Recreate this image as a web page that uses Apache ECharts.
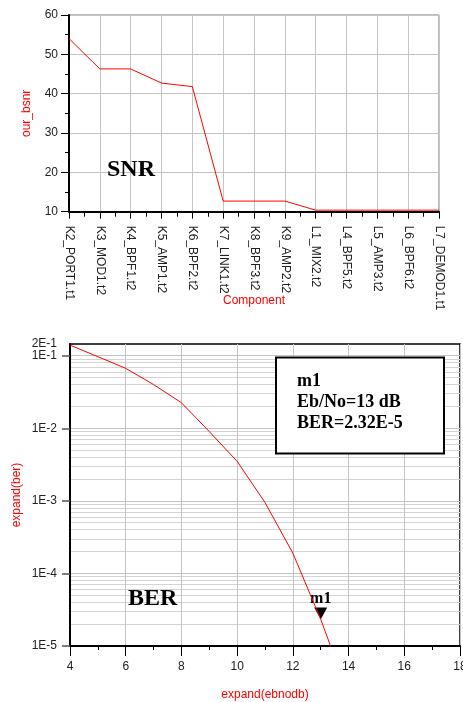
<!DOCTYPE html>
<html>
<head>
<meta charset="utf-8">
<script src="https://cdn.jsdelivr.net/npm/echarts@6/dist/echarts.min.js"></script>
<style>
html,body{margin:0;padding:0;background:#fff;}
#c{width:463px;height:702px;}
</style>
</head>
<body>
<div id="c"></div>
<script>
// ---- Data: SNR chain ----
const components = ['K2_PORT1.t1','K3_MOD1.t2','K4_BPF1.t2','K5_AMP1.t2','K6_BPF2.t2','K7_LINK1.t2','K8_BPF3.t2','K9_AMP2.t2','L1_MIX2.t2','L4_BPF5.t2','L5_AMP3.t2','L6_BPF6.t2','L7_DEMOD1.t1'];
const snrValues = [54, 46.3, 46.3, 42.7, 41.8, 12.7, 12.7, 12.7, 10.4, 10.4, 10.4, 10.4, 10.4];
const snrTicks = [10, 20, 30, 40, 50, 60];

// ---- Data: BER curve ----
const ebno = [4, 5, 6, 7, 8, 9, 10, 11, 12, 13, 14];
const ber = [0.14, 0.097, 0.067, 0.040, 0.0225, 0.009, 0.0035, 0.00095, 0.00019, 0.0000234, 0.0000021];
const berDecades = [1e-5, 1e-4, 1e-3, 1e-2, 1e-1];
const berDecadeLabels = ['1E-5','1E-4','1E-3','1E-2','1E-1'];
const berTop = 0.145;
const berTopLabel = '2E-1';
const ebnoTicks = [4, 6, 8, 10, 12, 14, 16, 18];
const marker = {name: 'm1', x: 13, y: 2.32e-5};
const markerText = ['m1', 'Eb/No=13 dB', 'BER=2.32E-5'];
const minorMantissas = [2, 3, 4, 5, 6, 7, 8, 9];

// log minor grid positions (axis decoration: 2..9 x each decade)
const minorGrid = [];
berDecades.forEach(function (d) {
  minorMantissas.forEach(function (m) {
    if (m * d < berTop) minorGrid.push(m * d);
  });
});

const sans = '"Liberation Sans", Arial, sans-serif';
const serif = '"Liberation Serif", "Times New Roman", serif';
const gridColor = '#c4c4c4';

const chart = echarts.init(document.getElementById('c'), null, {renderer: 'canvas'});
chart.setOption({
  animation: false,
  backgroundColor: '#fff',
  grid: [
    {left: 69, top: 15, width: 370, height: 196.7, show: true, borderColor: '#777', borderWidth: 1, backgroundColor: 'transparent', outerBoundsMode: 'none', containLabel: false},
    {left: 70, top: 344, width: 390, height: 302, show: true, borderColor: '#000', borderWidth: 1.5, backgroundColor: 'transparent', outerBoundsMode: 'none', containLabel: false}
  ],
  xAxis: [
    {
      gridIndex: 0, type: 'value', min: 0, max: components.length - 1, interval: 1,
      name: 'Component', nameLocation: 'middle', nameGap: 83, nameMoveOverlap: false,
      nameTextStyle: {color: '#ff0000', fontFamily: sans, fontSize: 12},
      axisLine: {show: true, onZero: false, lineStyle: {color: '#000', width: 2}},
      axisTick: {show: true, length: 7, lineStyle: {color: '#000', width: 1}},
      minorTick: {show: true, splitNumber: 2, length: 5, lineStyle: {color: '#000', width: 1}},
      splitLine: {show: true, lineStyle: {color: gridColor, width: 1}},
      axisLabel: {rotate: -90, margin: 14, color: '#222', fontFamily: sans, fontSize: 12,
        formatter: function (v) { return components[Math.round(v)] || ''; }}
    },
    {
      gridIndex: 1, type: 'value', min: 4, max: 18, interval: 2,
      name: 'expand(ebnodb)', nameLocation: 'middle', nameGap: 43, nameMoveOverlap: false,
      nameTextStyle: {color: '#ff0000', fontFamily: sans, fontSize: 12},
      axisLine: {show: true, onZero: false, lineStyle: {color: '#000', width: 2}},
      axisTick: {show: true, length: 10, lineStyle: {color: '#000', width: 1}},
      minorTick: {show: true, splitNumber: 2, length: 4, lineStyle: {color: '#000', width: 1}},
      splitLine: {show: true, lineStyle: {color: gridColor, width: 1}},
      axisLabel: {margin: 15, color: '#222', fontFamily: sans, fontSize: 12,
        formatter: function (v) { return ebnoTicks.indexOf(v) >= 0 ? String(v) : ''; }}
    }
  ],
  yAxis: [
    {
      gridIndex: 0, type: 'value', min: 10, max: 60, interval: 10,
      name: 'our_bsnr', nameLocation: 'middle', nameGap: 36, nameRotate: 90, nameMoveOverlap: false,
      nameTextStyle: {color: '#ff0000', fontFamily: sans, fontSize: 12},
      axisLine: {show: true, onZero: false, lineStyle: {color: '#000', width: 2}},
      axisTick: {show: true, length: 8, lineStyle: {color: '#000', width: 1}},
      minorTick: {show: true, splitNumber: 2, length: 4, lineStyle: {color: '#000', width: 1}},
      splitLine: {show: true, lineStyle: {color: gridColor, width: 1}},
      axisLabel: {margin: 11, color: '#222', fontFamily: sans, fontSize: 12,
        formatter: function (v) { return snrTicks.indexOf(v) >= 0 ? String(v) : ''; }}
    },
    {
      gridIndex: 1, type: 'log', logBase: 10, min: berDecades[0], max: berTop, position: 'left',
      name: 'expand(ber)', nameLocation: 'middle', nameGap: 47, nameRotate: 90, nameMoveOverlap: false,
      nameTextStyle: {color: '#ff0000', fontFamily: sans, fontSize: 12},
      axisLine: {show: true, onZero: false, lineStyle: {color: '#000', width: 2}},
      axisTick: {show: true, length: 8, customValues: berDecades, lineStyle: {color: '#555', width: 1.5}},
      splitLine: {show: true, lineStyle: {color: gridColor, width: 1}},
      axisLabel: {margin: 13, color: '#222', fontFamily: sans, fontSize: 12, customValues: berDecades,
        formatter: function (v) {
          const i = berDecades.findIndex(function (d) { return Math.abs(Math.log10(d) - Math.log10(v)) < 0.01; });
          return i >= 0 ? berDecadeLabels[i] : '';
        }}
    },
    {
      gridIndex: 1, type: 'log', logBase: 10, min: berDecades[0], max: berTop, position: 'left',
      axisLine: {show: false},
      axisTick: {show: false, customValues: minorGrid},
      splitLine: {show: true, lineStyle: {color: '#d4d4d4', width: 1}},
      axisLabel: {show: true, margin: 13, color: '#222', fontFamily: sans, fontSize: 12,
        customValues: [berTop], verticalAlign: 'middle', padding: [0, 0, 6, 0],
        formatter: function () { return berTopLabel; }}
    }
  ],
  series: [
    {
      type: 'line', xAxisIndex: 0, yAxisIndex: 0,
      data: snrValues.map(function (v, i) { return [i, v]; }),
      symbol: 'none', lineStyle: {color: '#ff0000', width: 1}, z: 5
    },
    {
      type: 'line', xAxisIndex: 1, yAxisIndex: 1,
      data: ebno.map(function (x, i) { return [x, ber[i]]; }),
      symbol: 'none', lineStyle: {color: '#ff0000', width: 1}, z: 5, clip: true,
      markPoint: {
        symbol: 'triangle', symbolRotate: 180, symbolSize: [13, 12], symbolOffset: [0, -6],
        itemStyle: {color: '#000'},
        label: {show: true, position: 'top', distance: 1, formatter: marker.name,
          color: '#000', fontFamily: serif, fontWeight: 'bold', fontSize: 16},
        data: [{coord: [marker.x, marker.y]}]
      }
    }
  ],
  graphic: [
    {type: 'text', x: 107, y: 170, z: 10, style: {text: 'SNR', font: 'bold 24px ' + serif, fill: '#000', verticalAlign: 'middle'}},
    {type: 'text', x: 128, y: 599, z: 10, style: {text: 'BER', font: 'bold 24px ' + serif, fill: '#000', verticalAlign: 'middle'}},
    {type: 'rect', z: 10, shape: {x: 276, y: 357.5, width: 168, height: 96}, style: {fill: '#fff', stroke: '#000', lineWidth: 2}},
    {type: 'text', x: 297, y: 381, z: 11, style: {text: markerText[0], font: 'bold 18px ' + serif, fill: '#000', verticalAlign: 'middle'}},
    {type: 'text', x: 297, y: 402, z: 11, style: {text: markerText[1], font: 'bold 18px ' + serif, fill: '#000', verticalAlign: 'middle'}},
    {type: 'text', x: 297, y: 423, z: 11, style: {text: markerText[2], font: 'bold 18px ' + serif, fill: '#000', verticalAlign: 'middle'}}
  ]
});
</script>
</body>
</html>
